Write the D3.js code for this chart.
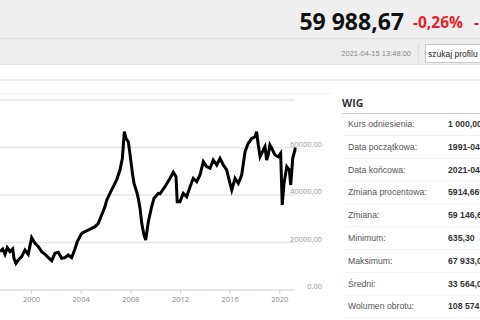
<!DOCTYPE html>
<html>
<head>
<meta charset="utf-8">
<script src="https://cdn.jsdelivr.net/npm/d3@7"></script>
<style>
  body { margin: 0; background: #fff; overflow: hidden; }
  svg { display: block; }
</style>
</head>
<body>
<svg id="page"></svg>
<script>
// WIG index
var dates = ["1997-07-01","1997-09-20","1997-11-28","1998-02-02","1998-04-22","1998-07-12","1998-08-18","1998-10-15","1998-12-24",
  "1999-04-01","1999-07-08","1999-10-12","2000-01-20","2000-04-27","2000-08-04","2000-11-10","2001-02-17","2001-05-26",
  "2001-09-02","2001-12-06","2002-03-15","2002-06-21","2002-09-27","2003-01-01","2003-04-12","2003-07-16","2003-09-24",
  "2004-01-30","2004-05-08","2004-08-15","2004-11-21","2005-02-28","2005-06-03","2005-09-09","2005-12-16","2006-02-06",
  "2006-05-12","2006-08-18","2006-11-24","2007-03-03","2007-05-12","2007-07-09","2007-08-26","2007-11-03","2007-12-20",
  "2008-01-19","2008-03-10","2008-04-19","2008-07-05","2008-08-22","2008-10-12","2008-12-02","2009-02-06","2009-03-29",
  "2009-06-13","2009-09-20","2009-11-28","2010-04-02","2010-05-23","2010-10-16","2011-03-15","2011-06-18","2011-09-06",
  "2011-10-12","2012-01-01","2012-04-08","2012-07-16","2012-10-23","2013-01-27","2013-05-08","2013-08-11","2013-11-18",
  "2014-02-24","2014-06-03","2014-09-06","2014-12-17","2015-03-24","2015-06-29","2015-10-05","2016-01-12","2016-03-03",
  "2016-06-07","2016-09-13","2016-12-20","2017-03-29","2017-07-02","2017-10-12","2018-01-16","2018-03-05","2018-04-23",
  "2018-06-15","2018-07-31","2018-11-06","2018-12-25","2019-02-10","2019-03-30","2019-05-23","2019-08-26","2019-12-01",
  "2020-02-10","2020-03-27","2020-05-19","2020-08-07","2020-10-23","2020-12-02","2021-01-30","2021-04-06","2021-04-15"];
var values = [16130,17260,15030,17820,16130,17260,13330,11230,12630,
  14030,16840,15030,22030,19650,18250,16130,15030,13610,
  12350,15450,15870,13330,13610,14740,13610,17260,20350,
  23870,24560,25260,25970,26670,28070,31580,35090,37890,
  40700,43510,46320,50530,55440,66650,63850,62440,57540,
  54030,48420,44910,41390,38610,34400,28080,23160,21050,
  28760,35090,38610,40700,40500,43510,47030,49550,47730,
  37190,37190,40700,39300,43510,47030,45600,48420,54030,
  51920,51240,54740,52630,55450,52630,50530,44920,42110,
  47030,44920,48420,58230,61760,63850,64500,66650,61050,
  56120,57540,60340,54740,57000,61050,59660,56840,56120,
  57540,35790,44920,51920,50530,44210,55450,58950,59989];

var yTicks = [0, 20000, 40000, 60000];
var yTickLabels = ["0,00", "20000,00", "40000,00", "60000,00"];
var xTickYears = [2000, 2004, 2008, 2012, 2016, 2020];

var statLabels = ["Kurs odniesienia:", "Data początkowa:", "Data końcowa:", "Zmiana procentowa:", "Zmiana:",
  "Minimum:", "Maksimum:", "Średni:", "Wolumen obrotu:"];
var statValues = ["1 000,00", "1991-04-16", "2021-04-15", "5914,66%", "59 146,67",
  "635,30", "67 933,05", "33 564,02", "108 574 225"];

var quote = "59 988,67";
var quoteChange = "-0,26%";
var quoteTime = "2021-04-15 13:48:00";

var parse = d3.timeParse("%Y-%m-%d");
var points = dates.map(function(d, i) { return {date: parse(d), value: values[i]}; });

var svg = d3.select("#page").attr("width", 480).attr("height", 320);

// header bars
var drawHeader = function()
{
    svg.append("rect").attr("x", 0).attr("y", 0).attr("width", 480).attr("height", 38).attr("fill", "#efefef");
    svg.append("rect").attr("x", 0).attr("y", 38).attr("width", 480).attr("height", 1.5).attr("fill", "#dedede");
    svg.append("rect").attr("x", 0).attr("y", 39.5).attr("width", 480).attr("height", 25).attr("fill", "#eeeeee");
    svg.append("rect").attr("x", 0).attr("y", 64).attr("width", 480).attr("height", 1).attr("fill", "#e4e4e4");

    svg.append("text")
        .text(quote)
        .attr("x", 404).attr("y", 29.5)
        .attr("text-anchor", "end")
        .attr("font-family", "Open Sans")
        .attr("font-weight", "bold")
        .attr("font-size", 23)
        .attr("fill", "#111");
    svg.append("text")
        .text(quoteChange)
        .attr("x", 413).attr("y", 28)
        .attr("font-family", "Open Sans")
        .attr("font-weight", "bold")
        .attr("font-size", 15.5)
        .attr("fill", "#e3242b");
    svg.append("text")
        .text("-")
        .attr("x", 474).attr("y", 28)
        .attr("font-family", "Open Sans")
        .attr("font-weight", "bold")
        .attr("font-size", 15.5)
        .attr("fill", "#e3242b");

    svg.append("text")
        .text(quoteTime)
        .attr("x", 411).attr("y", 55.5)
        .attr("text-anchor", "end")
        .attr("font-family", "Liberation Sans")
        .attr("font-size", 7.5)
        .attr("fill", "#888");
    svg.append("rect").attr("x", 418).attr("y", 43).attr("width", 1).attr("height", 19).attr("fill", "#dcdcdc");
    svg.append("rect")
        .attr("x", 425.5).attr("y", 44.5).attr("width", 60).attr("height", 18)
        .attr("fill", "#fff").attr("stroke", "#c8c8c8");
    svg.append("text")
        .text("szukaj profilu")
        .attr("x", 428).attr("y", 56.5)
        .attr("font-family", "Liberation Sans")
        .attr("font-size", 8.5)
        .attr("fill", "#222");

    svg.append("rect").attr("x", 0).attr("y", 79).attr("width", 480).attr("height", 2).attr("fill", "#eeeeee");
    svg.append("rect").attr("x", 0).attr("y", 93).attr("width", 332).attr("height", 1).attr("fill", "#f0f0f0");
}

var drawChart = function()
{
    var xScale = d3.scaleTime()
        .domain([new Date(2000, 0, 1), new Date(2020, 0, 1)])
        .range([31, 279.3]);
    var yScale = d3.scaleLinear()
        .domain([0, 80000])
        .range([290, 100]);

    var g = svg.append("g").classed("chart", true);

    g.append("clipPath").attr("id", "plotclip")
        .append("rect").attr("x", 0).attr("y", 95).attr("width", 297).attr("height", 200);

    // grid lines
    g.selectAll(".grid")
        .data(yTicks.concat([80000]))
        .enter()
        .append("line")
        .attr("x1", 0).attr("x2", 295)
        .attr("y1", function(d) { return yScale(d); })
        .attr("y2", function(d) { return yScale(d); })
        .attr("stroke", function(d) { return d === 0 ? "#d8dde3" : "#e6e6e6"; })
        .attr("stroke-width", 1.3);

    g.selectAll(".ylab")
        .data(yTicks)
        .enter()
        .append("text")
        .text(function(d, i) { return yTickLabels[i]; })
        .attr("x", 322)
        .attr("y", function(d) { return yScale(d) - 1; })
        .attr("text-anchor", "end")
        .attr("font-family", "Open Sans")
        .attr("font-size", 7.5)
        .attr("fill", "#9a9a9a");

    var xAxis = d3.axisBottom(xScale)
        .tickValues(xTickYears.map(function(y) { return new Date(y, 0, 1); }))
        .tickFormat(d3.timeFormat("%Y"))
        .tickSize(4)
        .tickPadding(3);
    var ax = g.append("g")
        .attr("transform", "translate(0,290)")
        .call(xAxis);
    ax.select(".domain").remove();
    ax.selectAll("line").attr("stroke", "#ccd3dc");
    ax.selectAll("text")
        .attr("font-family", "Open Sans")
        .attr("font-size", 7.5)
        .attr("fill", "#8a8a8a");

    var line = d3.line()
        .x(function(d) { return xScale(d.date); })
        .y(function(d) { return yScale(d.value); });

    g.append("path")
        .datum(points)
        .attr("clip-path", "url(#plotclip)")
        .attr("d", line)
        .attr("fill", "none")
        .attr("stroke", "#000")
        .attr("stroke-width", 3)
        .attr("stroke-linejoin", "miter");
}

var drawStats = function()
{
    var p = svg.append("g").classed("stats", true);
    p.append("text")
        .text("WIG")
        .attr("x", 342).attr("y", 106.5)
        .attr("font-family", "Open Sans")
        .attr("font-weight", "bold")
        .attr("font-size", 10.5)
        .attr("fill", "#333");
    p.append("rect").attr("x", 342).attr("y", 113).attr("width", 138).attr("height", 1).attr("fill", "#cfcfcf");

    var rows = p.selectAll(".row")
        .data(statLabels)
        .enter()
        .append("g")
        .attr("transform", function(d, i) { return "translate(0," + (124 + i * 22.8) + ")"; });

    rows.append("text")
        .text(function(d) { return d; })
        .attr("x", 348).attr("y", 3)
        .attr("font-family", "Liberation Sans")
        .attr("font-size", 8.7)
        .attr("fill", "#555");
    rows.append("text")
        .text(function(d, i) { return statValues[i]; })
        .attr("x", 448).attr("y", 3)
        .attr("font-family", "Liberation Sans")
        .attr("font-weight", "bold")
        .attr("font-size", 8.7)
        .attr("fill", "#333");
    rows.append("rect")
        .attr("x", 344).attr("y", 11).attr("width", 136).attr("height", 1)
        .attr("fill", "#f2f2f2");
}

drawHeader();
drawChart();
drawStats();
</script>
</body>
</html>
